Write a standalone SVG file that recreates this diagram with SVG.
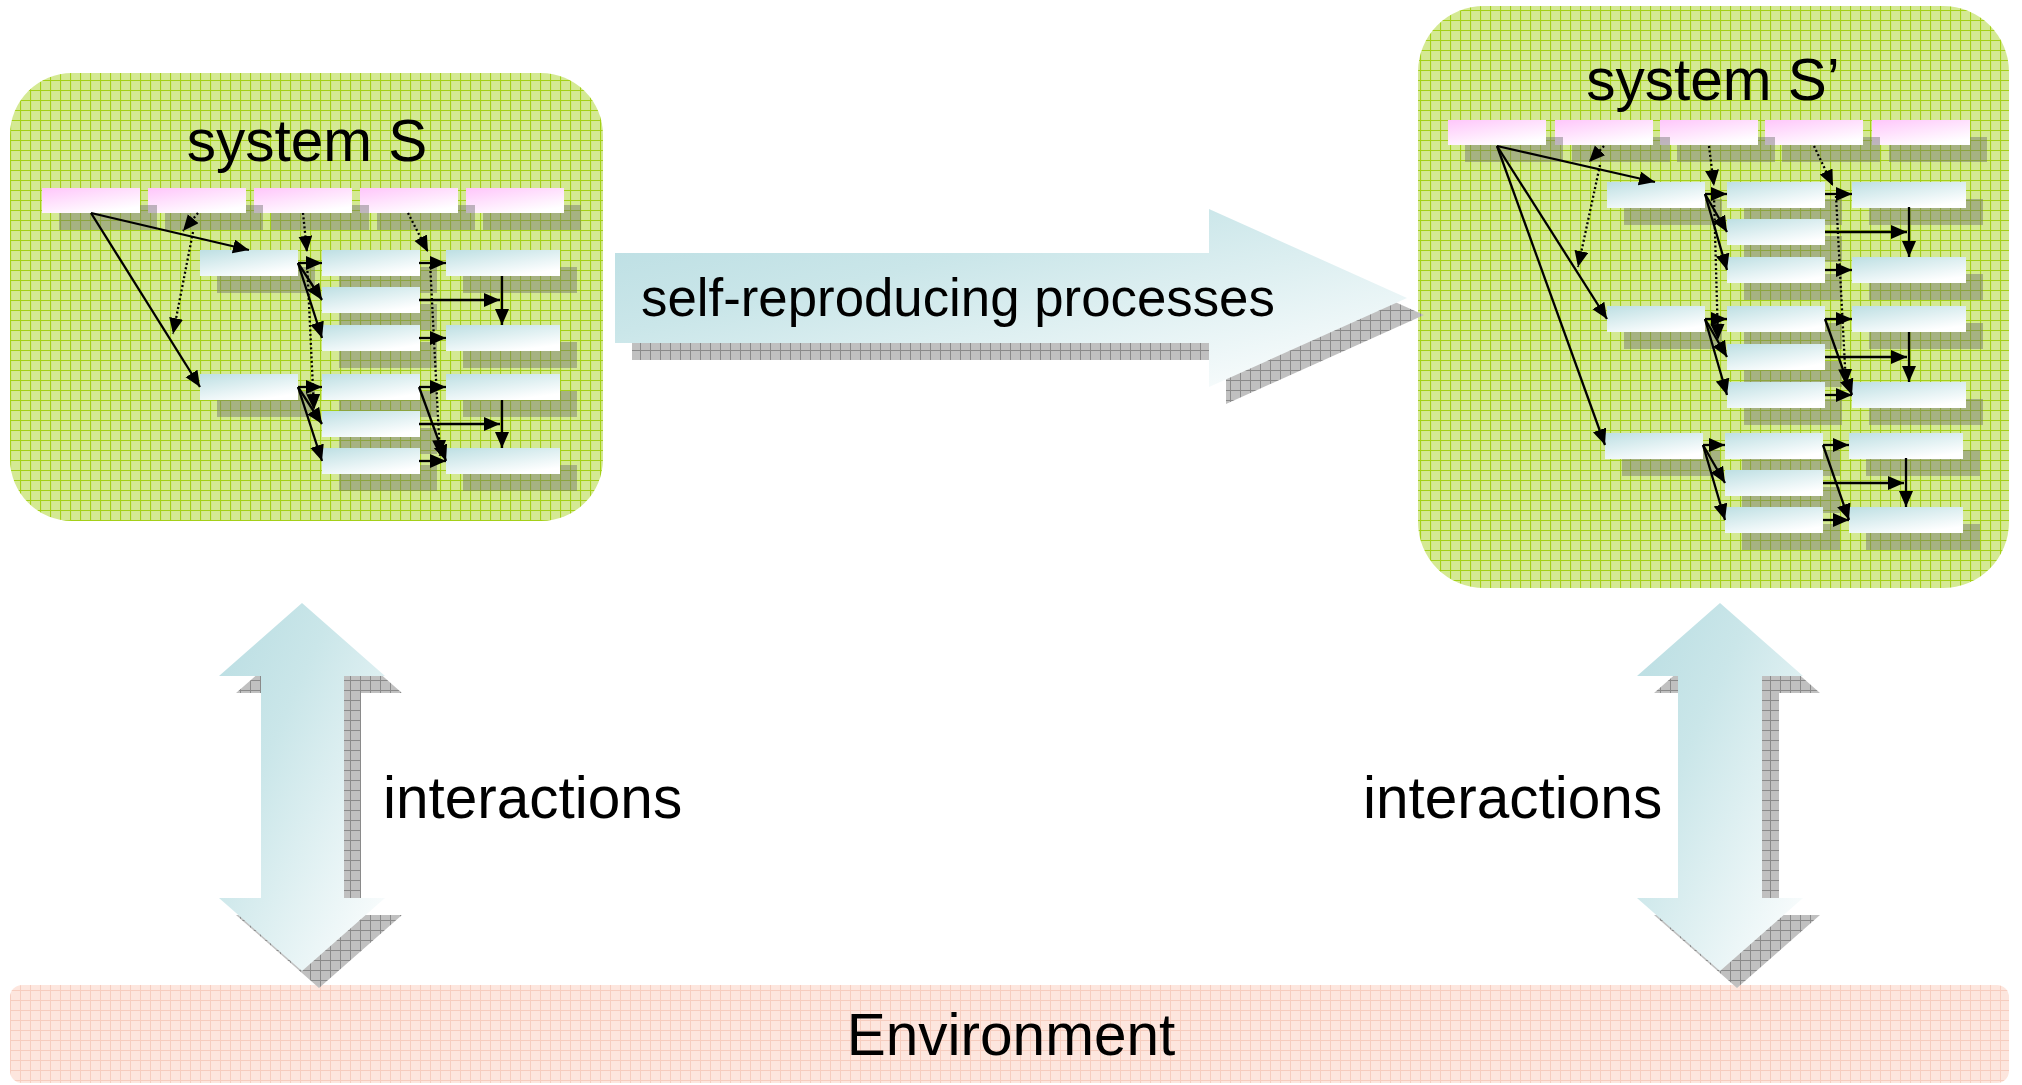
<svg xmlns="http://www.w3.org/2000/svg" width="2022" height="1085" viewBox="0 0 2022 1085">
<defs>
<style>
text{font-family:"Liberation Sans",Arial,sans-serif;fill:#000}
.t57{font-size:58.5px}
.t52{font-size:52.8px}
.c{stroke:#000;stroke-width:2.3;fill:none;marker-end:url(#ah)}
.d{stroke:#000;stroke-width:2.3;fill:none;stroke-dasharray:2 2.5;marker-end:url(#ah)}
.bsh{fill:#6f6f6f;fill-opacity:.45}
.gsh{fill:url(#pGray)}
</style>
<pattern id="pGreen" width="10" height="10" patternUnits="userSpaceOnUse">
<rect width="10" height="10" fill="#d4e993"/>
<path d="M0,0.5H10M0.5,0V10" stroke="#a4d018" stroke-width="1.2"/>
</pattern>
<pattern id="pGray" width="10" height="10" patternUnits="userSpaceOnUse">
<rect width="10" height="10" fill="#c0c0c0"/>
<path d="M0,0.5H10M0.5,0V10" stroke="#8a8a8a" stroke-width="1"/>
</pattern>
<pattern id="pEnv" width="10" height="10" patternUnits="userSpaceOnUse">
<rect width="10" height="10" fill="#fde6de"/>
<path d="M0,0.5H10M0.5,0V10" stroke="#f6cdbf" stroke-width="1"/>
</pattern>
<linearGradient id="gTeal" x1="0" y1="0" x2="1" y2="1">
<stop offset="0" stop-color="#b9dde2"/>
<stop offset="0.35" stop-color="#cae6e9"/>
<stop offset="1" stop-color="#ffffff"/>
</linearGradient>
<linearGradient id="gBox" x1="0" y1="0" x2="0.6" y2="1">
<stop offset="0" stop-color="#bddfe3"/>
<stop offset="1" stop-color="#ffffff"/>
</linearGradient>
<linearGradient id="gPink" x1="0" y1="0" x2="0.6" y2="1">
<stop offset="0" stop-color="#ffc6fb"/>
<stop offset="1" stop-color="#ffffff"/>
</linearGradient>
<marker id="ah" markerUnits="userSpaceOnUse" markerWidth="17" markerHeight="15" refX="16" refY="7" orient="auto">
<path d="M0,0L16,7L0,14z" fill="#000" stroke="none"/>
</marker>
<g id="pk"><rect class="bsh" x="17" y="17" width="98" height="25"/><rect width="98" height="25" fill="url(#gPink)"/></g>
<g id="bl"><rect class="bsh" x="17" y="17" width="98" height="26"/><rect width="98" height="26" fill="url(#gBox)"/></g>
<g id="blw"><rect class="bsh" x="17" y="17" width="114" height="26"/><rect width="114" height="26" fill="url(#gBox)"/></g>
</defs>
<rect width="2022" height="1085" fill="#fff"/>

<g id="environment">
<rect x="10" y="985" width="1999" height="98" rx="12" fill="url(#pEnv)"/>
<text class="t57" x="1011" y="1055" text-anchor="middle">Environment</text>
</g>

<g id="systemS">
<rect x="10" y="73" width="593" height="448" rx="62" fill="url(#pGreen)"/>
<text class="t57" x="307" y="161" text-anchor="middle">system S</text>
</g>
<g id="s-p5"><use href="#pk" x="466" y="188"/></g>
<g id="s-p4"><use href="#pk" x="360" y="188"/></g>
<g id="s-p3"><use href="#pk" x="254" y="188"/></g>
<g id="s-p2"><use href="#pk" x="148" y="188"/></g>
<g id="s-p1"><use href="#pk" x="42" y="188"/></g>
<g id="s-a1"><use href="#bl" x="200" y="250"/></g>
<g id="s-a2"><use href="#bl" x="200" y="374"/></g>
<g id="s-b1"><use href="#bl" x="322" y="250"/></g>
<g id="s-b2"><use href="#bl" x="322" y="287"/></g>
<g id="s-b3"><use href="#bl" x="322" y="325"/></g>
<g id="s-b4"><use href="#bl" x="322" y="374"/></g>
<g id="s-b5"><use href="#bl" x="322" y="411"/></g>
<g id="s-b6"><use href="#bl" x="322" y="448"/></g>
<g id="s-c1"><use href="#blw" x="446" y="250"/></g>
<g id="s-c2"><use href="#blw" x="446" y="325"/></g>
<g id="s-c3"><use href="#blw" x="446" y="374"/></g>
<g id="s-c4"><use href="#blw" x="446" y="448"/></g>

<g id="systemS2">
<rect x="1418" y="6" width="591" height="582" rx="66" fill="url(#pGreen)"/>
<text class="t57" x="1713" y="100" text-anchor="middle">system S’</text>
</g>
<g id="t-p5"><use href="#pk" x="1872" y="120"/></g>
<g id="t-p4"><use href="#pk" x="1765" y="120"/></g>
<g id="t-p3"><use href="#pk" x="1660" y="120"/></g>
<g id="t-p2"><use href="#pk" x="1555" y="120"/></g>
<g id="t-p1"><use href="#pk" x="1448" y="120"/></g>
<g id="t-a1"><use href="#bl" x="1607" y="182"/></g>
<g id="t-a2"><use href="#bl" x="1607" y="306"/></g>
<g id="t-a3"><use href="#bl" x="1605" y="433"/></g>
<g id="t-b1"><use href="#bl" x="1727" y="182"/></g>
<g id="t-b2"><use href="#bl" x="1727" y="219"/></g>
<g id="t-b3"><use href="#bl" x="1727" y="257"/></g>
<g id="t-b4"><use href="#bl" x="1727" y="306"/></g>
<g id="t-b5"><use href="#bl" x="1727" y="344"/></g>
<g id="t-b6"><use href="#bl" x="1727" y="382"/></g>
<g id="t-b7"><use href="#bl" x="1725" y="433"/></g>
<g id="t-b8"><use href="#bl" x="1725" y="470"/></g>
<g id="t-b9"><use href="#bl" x="1725" y="507"/></g>
<g id="t-c1"><use href="#blw" x="1852" y="182"/></g>
<g id="t-c2"><use href="#blw" x="1852" y="257"/></g>
<g id="t-c3"><use href="#blw" x="1852" y="306"/></g>
<g id="t-c4"><use href="#blw" x="1852" y="382"/></g>
<g id="t-c5"><use href="#blw" x="1849" y="433"/></g>
<g id="t-c6"><use href="#blw" x="1849" y="507"/></g>

<g id="connectors">
<line class="c" x1="91" y1="213" x2="249" y2="250"/>
<line class="c" x1="91" y1="213" x2="200" y2="387"/>
<line class="c" x1="298" y1="263" x2="322" y2="263"/>
<line class="c" x1="298" y1="263" x2="322" y2="300"/>
<line class="c" x1="298" y1="263" x2="322" y2="338"/>
<line class="c" x1="298" y1="387" x2="322" y2="387"/>
<line class="c" x1="298" y1="387" x2="322" y2="424"/>
<line class="c" x1="298" y1="387" x2="322" y2="461"/>
<line class="c" x1="419" y1="263" x2="446" y2="263"/>
<line class="c" x1="419" y1="300" x2="500" y2="300"/>
<line class="c" x1="502" y1="276" x2="502" y2="325"/>
<line class="c" x1="419" y1="338" x2="446" y2="338"/>
<line class="c" x1="419" y1="387" x2="446" y2="387"/>
<line class="c" x1="419" y1="387" x2="446" y2="461"/>
<line class="c" x1="419" y1="424" x2="500" y2="424"/>
<line class="c" x1="502" y1="400" x2="502" y2="448"/>
<line class="c" x1="419" y1="461" x2="446" y2="461"/>
<line class="d" x1="198" y1="213" x2="183" y2="231"/>
<line class="d" x1="193" y1="232" x2="173" y2="334"/>
<line class="d" x1="303" y1="213" x2="307" y2="252"/>
<line class="d" x1="307" y1="262" x2="314" y2="410"/>
<line class="d" x1="408" y1="213" x2="428" y2="252"/>
<line class="d" x1="430" y1="262" x2="440" y2="456"/>

<line class="c" x1="1497" y1="146" x2="1655" y2="182"/>
<line class="c" x1="1497" y1="146" x2="1607" y2="319"/>
<line class="c" x1="1497" y1="146" x2="1605" y2="445"/>
<line class="c" x1="1705" y1="194" x2="1727" y2="194"/>
<line class="c" x1="1705" y1="194" x2="1727" y2="232"/>
<line class="c" x1="1705" y1="194" x2="1727" y2="270"/>
<line class="c" x1="1705" y1="319" x2="1727" y2="319"/>
<line class="c" x1="1705" y1="319" x2="1727" y2="357"/>
<line class="c" x1="1705" y1="319" x2="1727" y2="395"/>
<line class="c" x1="1703" y1="445" x2="1725" y2="445"/>
<line class="c" x1="1703" y1="445" x2="1725" y2="483"/>
<line class="c" x1="1703" y1="445" x2="1725" y2="520"/>
<line class="c" x1="1825" y1="194" x2="1852" y2="194"/>
<line class="c" x1="1825" y1="232" x2="1907" y2="232"/>
<line class="c" x1="1909" y1="207" x2="1909" y2="257"/>
<line class="c" x1="1825" y1="270" x2="1852" y2="270"/>
<line class="c" x1="1825" y1="319" x2="1852" y2="319"/>
<line class="c" x1="1825" y1="319" x2="1852" y2="395"/>
<line class="c" x1="1825" y1="357" x2="1907" y2="357"/>
<line class="c" x1="1909" y1="332" x2="1909" y2="382"/>
<line class="c" x1="1825" y1="395" x2="1852" y2="395"/>
<line class="c" x1="1823" y1="445" x2="1849" y2="445"/>
<line class="c" x1="1823" y1="445" x2="1849" y2="520"/>
<line class="c" x1="1823" y1="483" x2="1904" y2="483"/>
<line class="c" x1="1906" y1="458" x2="1906" y2="507"/>
<line class="c" x1="1823" y1="520" x2="1849" y2="520"/>
<line class="d" x1="1604" y1="146" x2="1589" y2="162"/>
<line class="d" x1="1600" y1="165" x2="1578" y2="267"/>
<line class="d" x1="1709" y1="146" x2="1714" y2="186"/>
<line class="d" x1="1714" y1="196" x2="1718" y2="340"/>
<line class="d" x1="1814" y1="146" x2="1833" y2="186"/>
<line class="d" x1="1836" y1="196" x2="1846" y2="385"/>
</g>

<g id="arrowSelfReproducing">
<path class="gsh" d="M632,270H1226V226L1424,315L1226,404V360H632Z"/>
<path d="M615,253H1209V209L1407,298L1209,387V343H615Z" fill="url(#gTeal)"/>
<text class="t52" x="641" y="316">self-reproducing processes</text>
</g>

<g id="arrowInteractionsLeft">
<path class="gsh" d="M319,620L402,693H361V915H402L319,988L236,915H278V693H236Z"/>
<path d="M302,603L385,676H344V898H385L302,971L219,898H261V676H219Z" fill="url(#gTeal)"/>
</g>
<g id="labelInteractionsLeft"><text class="t57" x="383" y="818">interactions</text></g>

<g id="arrowInteractionsRight">
<path class="gsh" d="M1737,620L1820,693H1779V915H1820L1737,988L1654,915H1695V693H1654Z"/>
<path d="M1720,603L1803,676H1762V898H1803L1720,971L1637,898H1678V676H1637Z" fill="url(#gTeal)"/>
</g>
<g id="labelInteractionsRight"><text class="t57" x="1363" y="818">interactions</text></g>
</svg>
